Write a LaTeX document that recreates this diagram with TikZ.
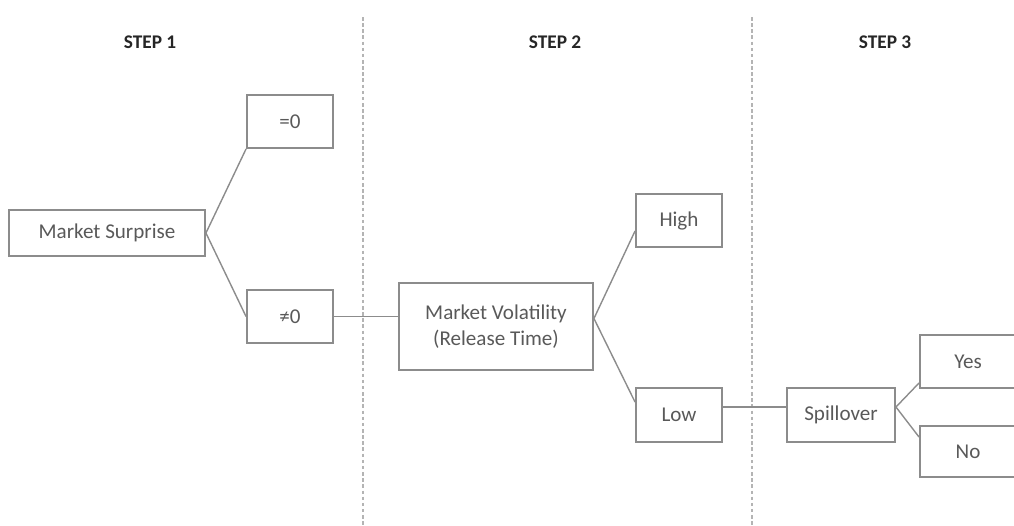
\documentclass[tikz,border=0pt]{standalone}
\usepackage{fontspec}
\setmainfont{Carlito}
\usepackage{tikz}
\usetikzlibrary{positioning}
\definecolor{boxgray}{HTML}{8C8C8C}
\definecolor{txtgray}{HTML}{595959}
\definecolor{sepgray}{HTML}{B4B4B4}

\begin{document}
\begin{tikzpicture}[x=0.02cm, y=-0.02cm,
    stepbox/.style={draw=boxgray, line width=1.1pt, text=txtgray, align=center,
        font=\fontsize{12}{15}\selectfont, inner sep=0pt},
    steplabel/.style={font=\fontsize{11}{13}\selectfont\bfseries, text=black!85},
    branch/.style={draw=boxgray, line width=0.8pt},
    sepline/.style={draw=sepgray, line width=0.6pt, dash pattern=on 2pt off 1.5pt}]
    % Fix the frame
    \useasboundingbox (0,0) rectangle (1014,525);
    \clip (0,0) rectangle (1014,525);

    % Step headings
    \node[steplabel] (s1) at (150,42) {STEP 1};
    \node[steplabel] (s2) at (555,42) {STEP 2};
    \node[steplabel] (s3) at (885,42) {STEP 3};

    % Dashed separators
    \draw[sepline] (363,17) -- (363,525);
    \draw[sepline] (752,17) -- (752,525);

    % Boxes
    \node[stepbox, minimum width=3.92cm, minimum height=0.92cm] (ms) at (107,233) {Market Surprise};
    \node[stepbox, minimum width=1.72cm, minimum height=1.06cm] (eq) at (290,121.5) {=0};
    \node[stepbox, minimum width=1.72cm, minimum height=1.06cm] (ne) at (290,316.5) {≠0};
    \node[stepbox, minimum width=3.88cm, minimum height=1.74cm] (mv) at (496,326.5) {Market Volatility\\(Release Time)};
    \node[stepbox, minimum width=1.72cm, minimum height=1.06cm] (hi) at (679,220.5) {High};
    \node[stepbox, minimum width=1.72cm, minimum height=1.08cm] (lo) at (679,415) {Low};
    \node[stepbox, minimum width=2.16cm, minimum height=1.08cm] (sp) at (841,415) {Spillover};
    \node[stepbox, minimum width=1.92cm, minimum height=1.06cm] (ye) at (968,361.5) {Yes};
    \node[stepbox, minimum width=1.92cm, minimum height=1.02cm] (no) at (968,451.5) {No};

    % Branches
    \draw[branch] (ms.east) -- (eq.south west);
    \draw[branch] (ms.east) -- (ne.west);
    \draw[branch] (ne.east) -- (ne.east -| mv.west);
    \draw[branch] ([yshift=0.16cm]mv.east) -- ([yshift=0.34cm]hi.south west);
    \draw[branch] ([yshift=0.16cm]mv.east) -- ([yshift=-0.3cm]lo.north west);
    \draw[branch] ([yshift=0.16cm]lo.east) -- ([yshift=0.16cm]lo.east -| sp.west);
    \draw[branch] ([yshift=0.16cm]sp.east) -- ([yshift=0.12cm]ye.south west);
    \draw[branch] ([yshift=0.16cm]sp.east) -- ([yshift=-0.24cm]no.north west);

\end{tikzpicture}
\end{document}
